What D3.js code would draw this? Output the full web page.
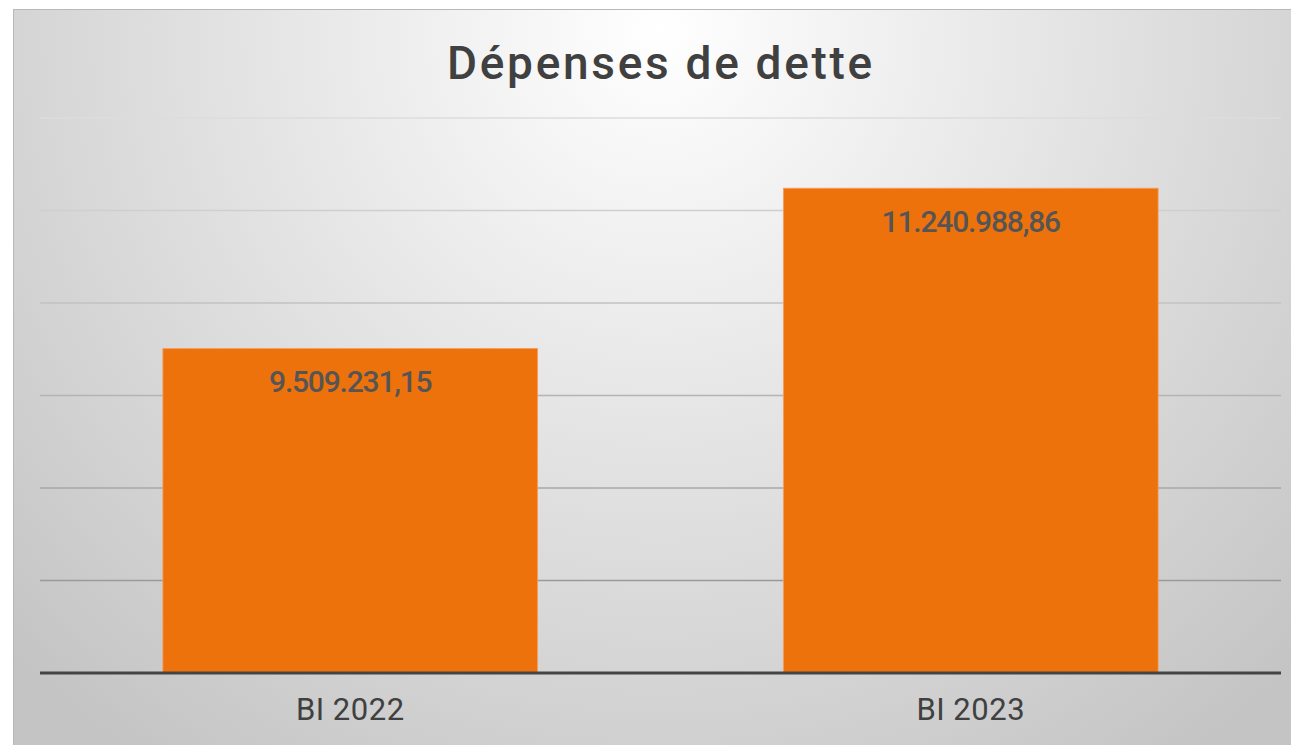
<!DOCTYPE html>
<html>
<head>
<meta charset="utf-8">
<script src="https://cdn.jsdelivr.net/npm/d3@7"></script>
<style>
  body { margin: 0; background: #fff; }
  svg { display: block; }
</style>
</head>
<body>
<div id="chart"></div>
<script>
var categories = ["BI 2022", "BI 2023"];
var values = [9509231.15, 11240988.86];
var labels = ["9.509.231,15", "11.240.988,86"];
var yTicks = [7000000, 8000000, 9000000, 10000000, 11000000, 12000000];

var W = 1291, H = 745;
var margin = { top: 118, right: 10, bottom: 72, left: 40 },
    width = W - margin.left - margin.right,
    height = H - margin.top - margin.bottom;

var svg = d3.select("#chart").append("svg")
    .attr("width", W)
    .attr("height", H);

var defs = svg.append("defs");
var bg = defs.append("radialGradient")
    .attr("id", "bg")
    .attr("gradientUnits", "userSpaceOnUse")
    .attr("cx", 660).attr("cy", 30).attr("r", 900);
bg.append("stop").attr("offset", "0%").attr("stop-color", "#ffffff");
bg.append("stop").attr("offset", "100%").attr("stop-color", "#c4c4c4");

svg.append("rect")
    .attr("x", 13.5).attr("y", 9.5)
    .attr("width", W - 13).attr("height", H - 9)
    .attr("fill", "url(#bg)")
    .attr("stroke", "#b8b8b8");

var g = svg.append("g")
    .attr("transform", "translate(" + margin.left + "," + margin.top + ")");

var x = d3.scaleBand()
    .domain(categories)
    .range([0, width])
    .paddingInner(0.396)
    .paddingOuter(0.198);

var y = d3.scaleLinear()
    .domain([6000000, 12000000])
    .range([height, 0]);

var gridColor = d3.scaleLinear()
    .domain([12000000, 7000000])
    .range(["#dcdcdc", "#9a9a9a"]);

// gridlines
g.selectAll(".grid")
    .data(yTicks)
    .enter().append("line")
    .attr("class", "grid")
    .attr("x1", 0).attr("x2", width)
    .attr("y1", d => y(d)).attr("y2", d => y(d))
    .attr("stroke", d => gridColor(d))
    .attr("stroke-width", 1.3);

// bars
g.selectAll(".bar")
    .data(values)
    .enter().append("rect")
    .attr("class", "bar")
    .attr("x", (d, i) => x(categories[i]))
    .attr("width", x.bandwidth())
    .attr("y", d => y(d))
    .attr("height", d => height - y(d))
    .attr("fill", "#ee720c")
    .attr("stroke", "#f6a066")
    .attr("stroke-width", 0.8);

// value labels
g.selectAll(".label")
    .data(values)
    .enter().append("text")
    .attr("class", "label")
    .attr("x", (d, i) => x(categories[i]) + x.bandwidth() / 2)
    .attr("y", d => y(d) + 44)
    .attr("text-anchor", "middle")
    .style("font-family", "Roboto, sans-serif")
    .style("font-size", "30px")
    .style("font-weight", "500")
    .style("letter-spacing", "-1.2px")
    .style("fill", "#555555")
    .text((d, i) => labels[i]);

// x axis
var xAxis = g.append("g")
    .attr("transform", "translate(0," + height + ")")
    .call(d3.axisBottom(x).tickSize(0).tickPadding(24));
xAxis.select(".domain").attr("stroke", "#444").attr("stroke-width", 3)
    .attr("d", "M0,0H" + width);
xAxis.selectAll("text")
    .style("font-family", "Roboto, sans-serif")
    .style("font-size", "31px")
    .style("font-weight", "400")
    .style("letter-spacing", "0.5px")
    .style("fill", "#404040")
    .attr("dy", "0.75em");

// title
svg.append("text")
    .attr("x", 661)
    .attr("y", 79)
    .attr("text-anchor", "middle")
    .style("font-family", "Roboto, sans-serif")
    .style("font-size", "46px")
    .style("font-weight", "500")
    .style("letter-spacing", "2.7px")
    .style("fill", "#404040")
    .text("Dépenses de dette");
</script>
</body>
</html>
